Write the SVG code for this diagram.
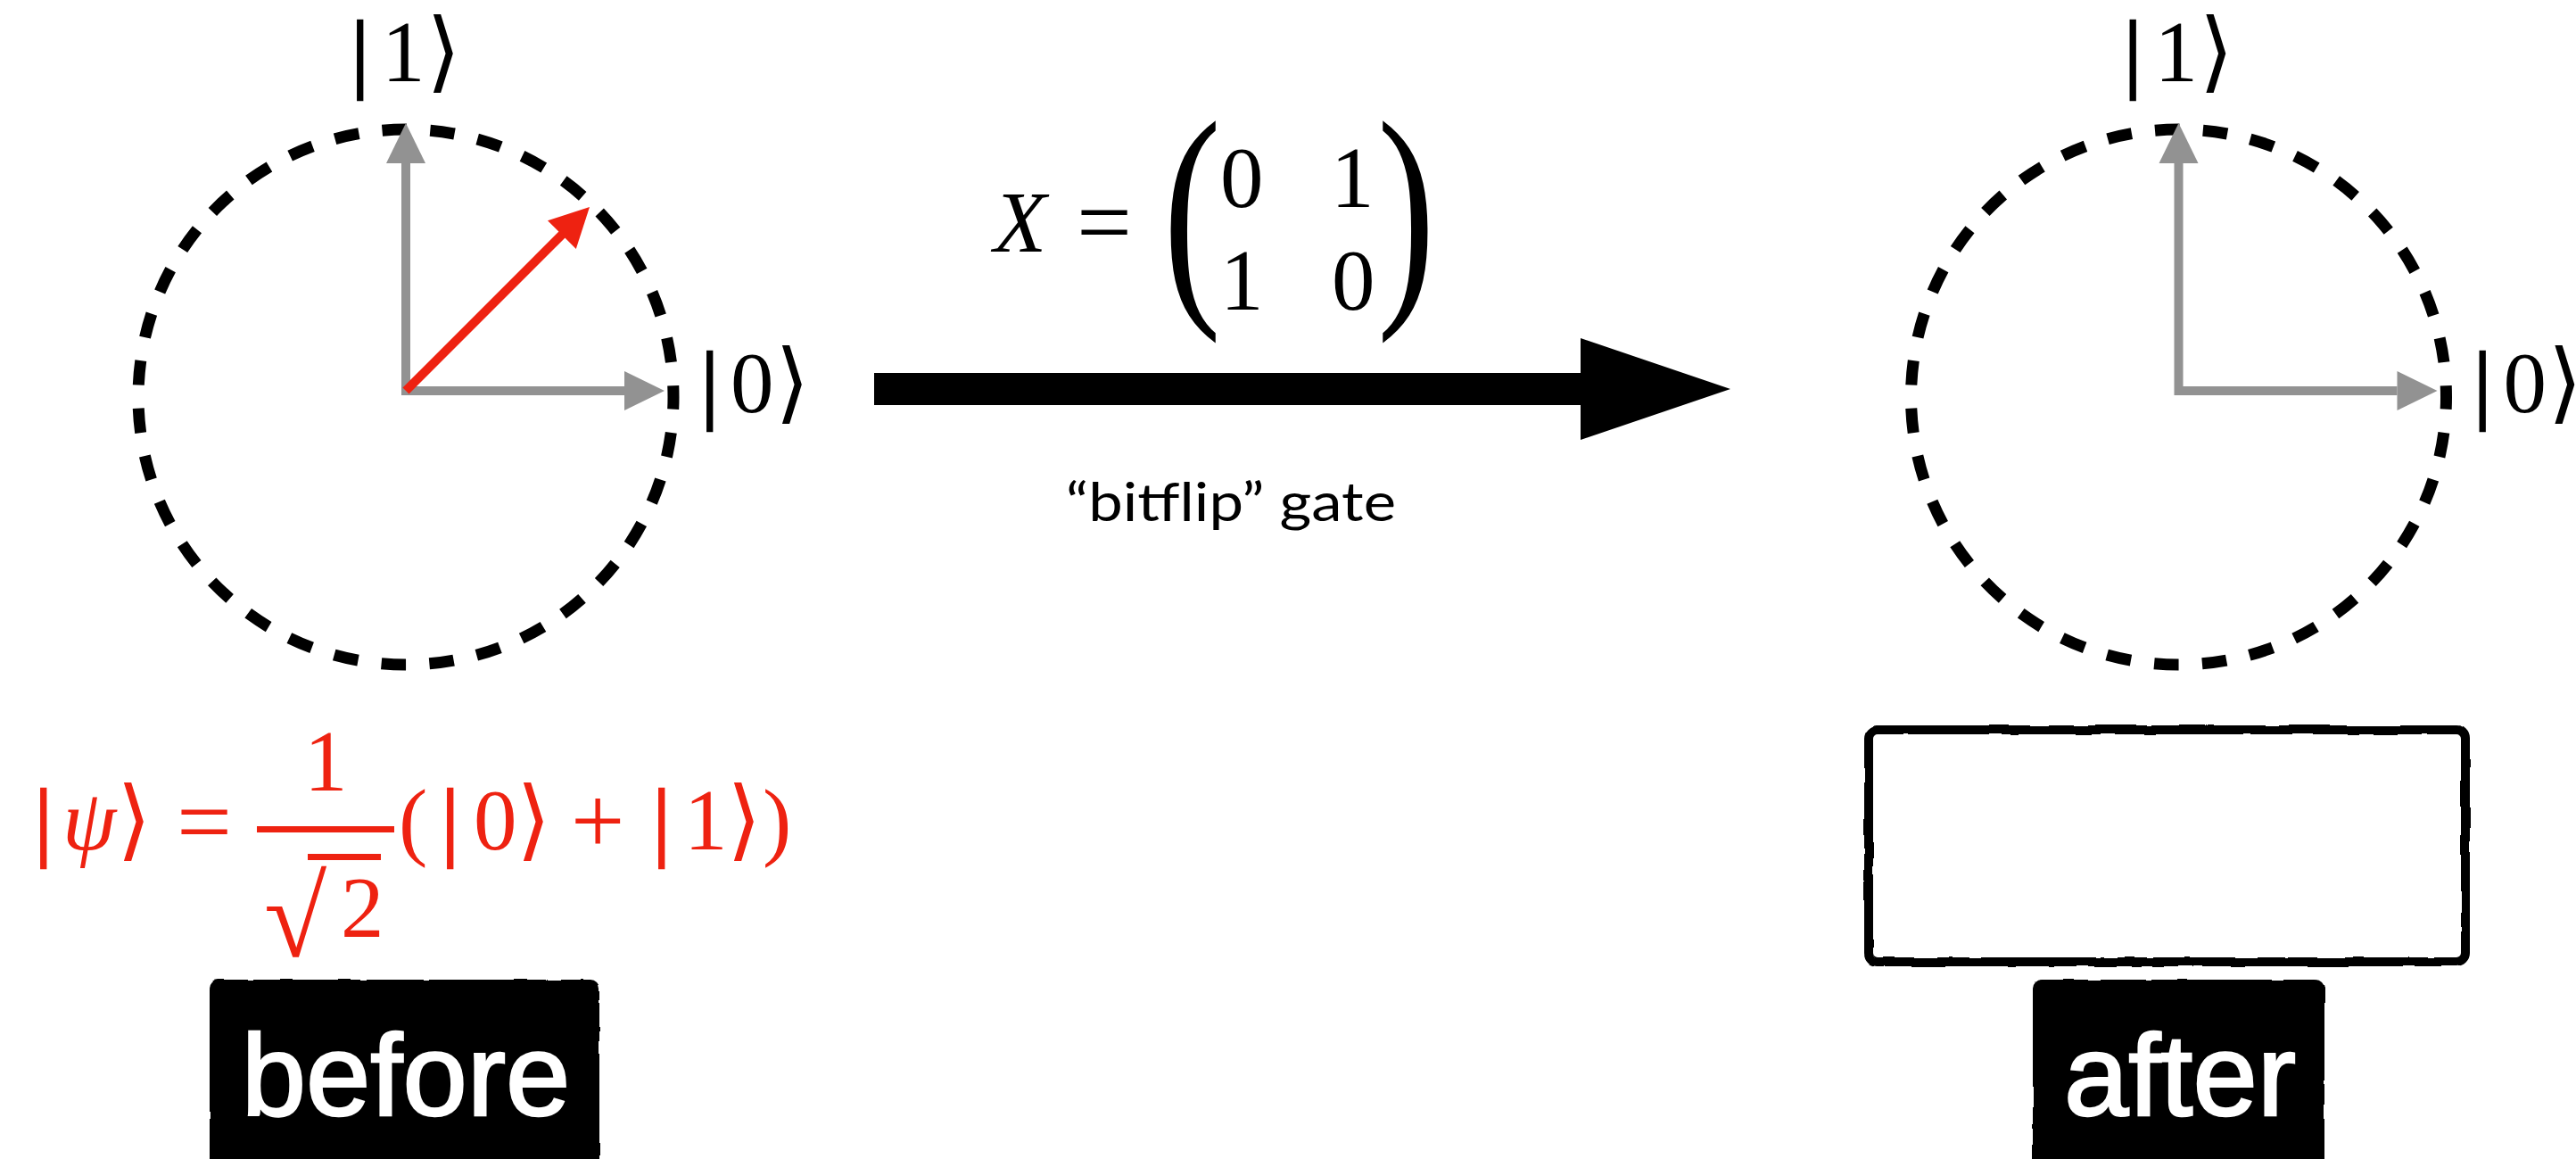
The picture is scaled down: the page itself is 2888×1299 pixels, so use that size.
<svg xmlns="http://www.w3.org/2000/svg" width="2888" height="1299" viewBox="0 0 2888 1299">
<defs>
<style>
.ring{fill:none;stroke:#000;stroke-width:13;stroke-dasharray:27.5 26.36;stroke-dashoffset:13.75}
.axis{fill:none;stroke:#929292;stroke-width:10}
.axhead{fill:#929292}
.math{font-family:"Liberation Serif","DejaVu Serif",serif;font-size:97px}
.ang{font-family:"DejaVu Serif","Liberation Serif",serif;font-size:99px}
.bar{stroke-width:2.5}
.red{fill:#EE2211;stroke:#EE2211}
.blk{fill:#000;stroke:#000}
.lbl{font-family:"Liberation Sans",Arial,sans-serif;font-size:130px;fill:#fff;stroke:#fff;stroke-width:2.5;text-anchor:middle}
</style>
<filter id="rough" x="-5%" y="-5%" width="110%" height="110%">
<feTurbulence type="fractalNoise" baseFrequency="0.03" numOctaves="2" seed="4" result="n"/>
<feDisplacementMap in="SourceGraphic" in2="n" scale="4" xChannelSelector="R" yChannelSelector="G"/>
</filter>
<g id="qubit">
<circle class="ring" cx="455" cy="445" r="300"/>
<path class="axis" d="M455 443 V183 M450 438 H700"/>
<polygon class="axhead" points="433,183 477,183 455,138"/>
<polygon class="axhead" points="700,416 700,460 745,438"/>
<g class="blk" stroke-width="0">
<text class="math" y="91"><tspan x="394" class="bar">|</tspan><tspan x="428">1</tspan><tspan x="478" class="ang">⟩</tspan></text>
<text class="math" y="462"><tspan x="786" class="bar">|</tspan><tspan x="819">0</tspan><tspan x="869" class="ang">⟩</tspan></text>
</g>
</g>
</defs>

<g id="state-before">
<use href="#qubit"/>
<line x1="455" y1="438" x2="631" y2="262" stroke="#EE2211" stroke-width="10"/>
<polygon fill="#EE2211" points="661,232 614,247.2 645.8,279"/>
</g>

<g id="state-after">
<use href="#qubit" transform="translate(1987.5,0)"/>
</g>

<g id="equation-before" class="math red" stroke-width="0">
<text y="952"><tspan x="39" class="bar">|</tspan><tspan x="70" font-style="italic">ψ</tspan><tspan x="131" class="ang">⟩</tspan></text>
<text x="198" y="958" font-size="110">=</text>
<text x="341" y="886">1</text>
<rect x="288" y="926" width="154" height="7" stroke="none"/>
<text><tspan x="296" y="1072" font-size="128">√</tspan><tspan x="382" y="1050">2</tspan></text>
<rect x="345" y="957" width="82" height="7" stroke="none"/>
<text y="952"><tspan x="447">(</tspan><tspan x="495" class="bar">|</tspan><tspan x="531">0</tspan><tspan x="579" class="ang">⟩</tspan></text>
<text x="640" y="956" font-size="107">+</text>
<text y="952"><tspan x="732" class="bar">|</tspan><tspan x="767">1</tspan><tspan x="815" class="ang">⟩</tspan><tspan x="855">)</tspan></text>
</g>

<g id="connectors">
<rect x="980" y="418" width="794" height="36" fill="#000"/>
<polygon fill="#000" points="1772,379 1940,436 1772,493"/>
</g>

<g id="gate-label" class="math" fill="#000">
<text x="1114" y="282" font-style="italic">X</text>
<text x="1207" y="286" font-size="110">=</text>
<text font-size="275" transform="translate(1304,326) scale(0.71,1)">(</text>
<text font-size="275" transform="translate(1544,326) scale(0.71,1)">)</text>
<text y="232"><tspan x="1368">0</tspan><tspan x="1492">1</tspan></text>
<text y="347"><tspan x="1368">1</tspan><tspan x="1493">0</tspan></text>
<text x="1380" y="584" font-family="Lato,'Open Sans',sans-serif" font-size="60" text-anchor="middle" textLength="370" lengthAdjust="spacingAndGlyphs">“bitflip” gate</text>
</g>

<g id="result-box">
<rect x="2095" y="818" width="669" height="260" rx="10" fill="#fff" stroke="#000" stroke-width="10" filter="url(#rough)"/>
</g>

<g id="label-before">
<rect x="235" y="1098" width="437" height="220" rx="10" fill="#000" filter="url(#rough)"/>
<text class="lbl" x="455" y="1250">before</text>
</g>

<g id="label-after">
<rect x="2279" y="1098" width="327" height="220" rx="10" fill="#000" filter="url(#rough)"/>
<text class="lbl" x="2444" y="1250">after</text>
</g>
</svg>
